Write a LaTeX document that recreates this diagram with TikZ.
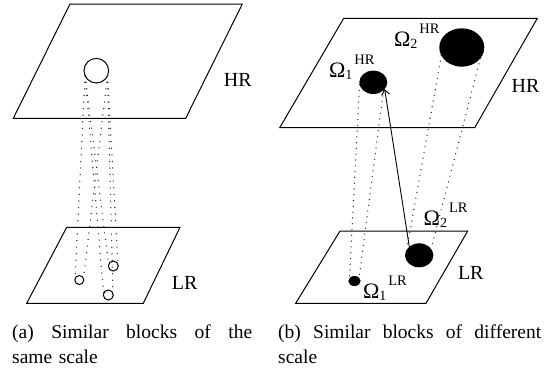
\documentclass[tikz,border=0pt]{standalone}
\usepackage{fontspec}
\setmainfont{Liberation Serif}
\usetikzlibrary{shapes.geometric,arrows.meta}
\newcommand{\omlab}[2]{{\fontsize{22}{22}\selectfont Ω}\raisebox{-2.5pt}{\fontsize{14}{14}\selectfont #1}\hspace{2pt}\raisebox{12.5pt}{\fontsize{14.5}{14.5}\selectfont #2}}
\begin{document}
\begin{tikzpicture}[x=1pt,y=-1pt,
  plane/.style={draw, line width=1pt, line join=miter},
  ring/.style={circle, draw, line width=1pt, inner sep=0pt, outer sep=0pt},
  blob/.style={ellipse, fill=black, inner sep=0pt, outer sep=0pt},
  dotln/.style={line width=1.4pt, line cap=round, black!85, dash pattern=on 0pt off 6.6pt},
  dotlnb/.style={line width=1.4pt, line cap=round, black!85, dash pattern=on 0pt off 5.8pt},
  lab/.style={inner sep=0pt, font=\fontsize{20}{24}\selectfont},
  omega/.style={inner sep=0pt, anchor=base west},
  capt/.style={inner sep=0pt, anchor=base west, align=left, font=\fontsize{19.5}{25}\selectfont}]
\useasboundingbox (0,0) rectangle (546,372);
% planes
\draw[plane] (70,4) -- (242.3,4) -- (185.7,118.3) -- (13.3,118.3) -- cycle;
\draw[plane] (66.7,227.3) -- (180,227.3) -- (143.3,303.3) -- (26.7,303.3) -- cycle;
\draw[plane] (343.7,18.3) -- (537.3,18.3) -- (474.7,127.7) -- (279.7,127.7) -- cycle;
\draw[plane] (340,231) -- (467.7,231) -- (426,303.3) -- (295.7,303.3) -- cycle;
% left panel blocks
\node[ring, minimum size=24.6pt] (hrc) at (96.3,70.7) {};
\node[ring, minimum size=9pt] (c1) at (79.3,280) {};
\node[ring, minimum size=10pt] (c2) at (113.3,266) {};
\node[ring, minimum size=10pt] (c3) at (108.3,295) {};
\foreach \c in {c1,c2,c3} {
  \draw[dotln] (hrc.204) -- (\c.160);
  \draw[dotln] (hrc.-24) -- (\c.20);
}
% right panel blocks
\node[blob, minimum width=28pt, minimum height=23.4pt] (o1hr) at (373.3,82.3) {};
\node[blob, minimum width=45pt, minimum height=38.4pt] (o2hr) at (461.8,47.5) {};
\node[blob, minimum width=12.4pt, minimum height=10pt] (o1lr) at (354.5,281) {};
\node[blob, minimum width=28.4pt, minimum height=24pt] (o2lr) at (419.2,255.3) {};
\draw[dotlnb] (o1hr.190) -- (o1lr.150);
\draw[dotlnb] (o1hr.-38) -- (o1lr.36);
\draw[dotlnb] (o2hr.201) -- (o2lr.155);
\draw[dotlnb] (o2hr.-30.5) -- (o2lr.29);
\draw[line width=0.9pt, -{Straight Barb[length=5pt,width=8pt]}] (o2lr.139) -- (o1hr.-31);
% labels
\node[lab] (hrA) at (237.7,80) {HR};
\node[lab] (lrA) at (184.7,283) {LR};
\node[lab] (hrB) at (525.5,85.5) {HR};
\node[lab] (lrB) at (470.8,272.7) {LR};
\node[omega] (l1hr) at (328.8,77.3) {\omlab{1}{HR}};
\node[omega] (l2hr) at (393.8,46) {\omlab{2}{HR}};
\node[omega] (l2lr) at (423.5,225) {\omlab{2}{LR}};
\node[omega] (l1lr) at (362.8,298.3) {\omlab{1}{LR}};
% captions
\node[capt, text width=240pt] (capa) at (12,338) {(a)\hfill Similar\hfill blocks\hfill of\hfill the\\same scale};
\node[capt, text width=263pt] (capb) at (278,338) {(b)\hfill Similar\hfill blocks\hfill of\hfill different\\scale};
\end{tikzpicture}
\end{document}
